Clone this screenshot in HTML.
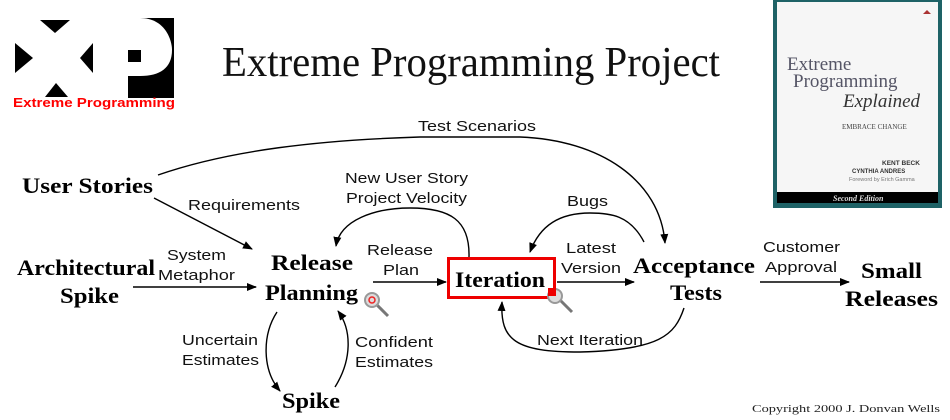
<!DOCTYPE html>
<html><head><meta charset="utf-8"><style>
html,body{margin:0;padding:0;background:#fff;width:950px;height:420px;overflow:hidden}
svg text{font-family:"Liberation Sans",sans-serif}
.s{font-family:"Liberation Serif",serif !important;font-weight:bold;font-size:22px}
.l{font-size:15px;fill:#111}
</style></head><body>
<svg width="950" height="420" viewBox="0 0 950 420" xmlns="http://www.w3.org/2000/svg">
<defs><marker id="a" markerWidth="10" markerHeight="10" refX="9" refY="5" orient="auto" markerUnits="userSpaceOnUse"><path d="M0,1 L10,5 L0,9 Z" fill="#000"/></marker></defs>
<!-- logo -->
<polygon points="15,43 33,58 15,73" fill="#000"/>
<polygon points="40,20 70,20 55,33" fill="#000"/>
<polygon points="45,97 68,97 56,83" fill="#000"/>
<polygon points="93,43 80,58 93,73" fill="#000"/>
<path d="M128,18 L174,18 L174,98 L128,98 Z" fill="#000"/>
<path d="M128,18 L140,18 C165,18 172,40 172,50 C172,68 160,76 140,76 L128,76 Z" fill="#fff"/>
<rect x="128" y="50" width="13" height="12" fill="#000"/>
<text x="13" y="107" font-size="12.5" font-weight="bold" fill="#f00" textLength="162" lengthAdjust="spacingAndGlyphs">Extreme Programming</text>
<!-- title -->
<text x="222" y="76" style="font-family:'Liberation Serif',serif" font-size="42" fill="#111" textLength="498" lengthAdjust="spacingAndGlyphs">Extreme Programming Project</text>
<!-- book -->
<rect x="773" y="0" width="169" height="208" fill="#1e6266"/>
<rect x="777" y="2" width="161" height="190" fill="#f6f6f6"/>
<rect x="777" y="192" width="161" height="11" fill="#000"/>
<text x="833" y="201" font-size="8" font-style="italic" font-weight="bold" fill="#ddd" style="font-family:'Liberation Serif',serif">Second Edition</text>
<text x="787" y="70" font-size="19" fill="#556" style="font-family:'Liberation Serif',serif">Extreme</text>
<text x="793" y="87" font-size="19" fill="#556" style="font-family:'Liberation Serif',serif">Programming</text>
<text x="843" y="107" font-size="19" font-style="italic" fill="#333" style="font-family:'Liberation Serif',serif">Explained</text>
<text x="842" y="129" font-size="7" fill="#444" style="font-family:'Liberation Serif',serif">EMBRACE CHANGE</text>
<text x="882" y="165" font-size="6.5" font-weight="bold" fill="#333">KENT BECK</text>
<text x="852" y="173" font-size="6" font-weight="bold" fill="#333">CYNTHIA ANDRES</text>
<text x="849" y="181" font-size="5.5" fill="#777">Foreword by Erich Gamma</text>
<polygon points="923,14 927,10 931,14" fill="#a33"/>
<!-- nodes -->
<text class="s" x="22" y="193" textLength="131" lengthAdjust="spacingAndGlyphs">User Stories</text>
<text class="s" x="17" y="275" textLength="138" lengthAdjust="spacingAndGlyphs">Architectural</text>
<text class="s" x="60" y="303" textLength="59" lengthAdjust="spacingAndGlyphs">Spike</text>
<text class="s" x="271" y="270" textLength="82" lengthAdjust="spacingAndGlyphs">Release</text>
<text class="s" x="265" y="300" textLength="93" lengthAdjust="spacingAndGlyphs">Planning</text>
<rect x="448.5" y="258.5" width="106" height="39" fill="#fff" stroke="#e00" stroke-width="3"/>
<text class="s" x="455" y="287" textLength="90" lengthAdjust="spacingAndGlyphs">Iteration</text>
<text class="s" x="633" y="273" textLength="122" lengthAdjust="spacingAndGlyphs">Acceptance</text>
<text class="s" x="670" y="300" textLength="52" lengthAdjust="spacingAndGlyphs">Tests</text>
<text class="s" x="861" y="278" textLength="61" lengthAdjust="spacingAndGlyphs">Small</text>
<text class="s" x="845" y="306" textLength="93" lengthAdjust="spacingAndGlyphs">Releases</text>
<text class="s" x="282" y="408" textLength="58" lengthAdjust="spacingAndGlyphs">Spike</text>
<!-- labels -->
<text class="l" x="418" y="131" textLength="118" lengthAdjust="spacingAndGlyphs">Test Scenarios</text>
<text class="l" x="188" y="210" textLength="112" lengthAdjust="spacingAndGlyphs">Requirements</text>
<text class="l" x="345" y="183" textLength="123" lengthAdjust="spacingAndGlyphs">New User Story</text>
<text class="l" x="346" y="203" textLength="121" lengthAdjust="spacingAndGlyphs">Project Velocity</text>
<text class="l" x="567" y="206" textLength="41" lengthAdjust="spacingAndGlyphs">Bugs</text>
<text class="l" x="167" y="260" textLength="59" lengthAdjust="spacingAndGlyphs">System</text>
<text class="l" x="158" y="280" textLength="77" lengthAdjust="spacingAndGlyphs">Metaphor</text>
<text class="l" x="367" y="255" textLength="66" lengthAdjust="spacingAndGlyphs">Release</text>
<text class="l" x="383" y="275" textLength="36" lengthAdjust="spacingAndGlyphs">Plan</text>
<text class="l" x="566" y="253" textLength="50" lengthAdjust="spacingAndGlyphs">Latest</text>
<text class="l" x="561" y="273" textLength="60" lengthAdjust="spacingAndGlyphs">Version</text>
<text class="l" x="763" y="252" textLength="77" lengthAdjust="spacingAndGlyphs">Customer</text>
<text class="l" x="765" y="272" textLength="72" lengthAdjust="spacingAndGlyphs">Approval</text>
<text class="l" x="537" y="345" textLength="106" lengthAdjust="spacingAndGlyphs">Next Iteration</text>
<text class="l" x="182" y="345" textLength="76" lengthAdjust="spacingAndGlyphs">Uncertain</text>
<text class="l" x="182" y="365" textLength="77" lengthAdjust="spacingAndGlyphs">Estimates</text>
<text class="l" x="355" y="347" textLength="78" lengthAdjust="spacingAndGlyphs">Confident</text>
<text class="l" x="355" y="367" textLength="78" lengthAdjust="spacingAndGlyphs">Estimates</text>
<text x="752" y="412" font-size="10.5" fill="#222" style="font-family:'Liberation Serif',serif" textLength="188" lengthAdjust="spacingAndGlyphs">Copyright 2000 J. Donvan Wells</text>
<!-- connectors -->
<g fill="none" stroke="#000" stroke-width="1.4">
<path d="M158,175 C230,150 320,140 420,137 L520,137 C600,140 660,180 665,243" marker-end="url(#a)"/>
<path d="M154,198 L252,249" marker-end="url(#a)"/>
<path d="M133,287 L256,287" marker-end="url(#a)"/>
<path d="M373,282 L446,282" marker-end="url(#a)"/>
<path d="M469,257 C470,220 450,208 410,208 C375,208 340,220 336,246" marker-end="url(#a)"/>
<path d="M557,282 L634,282" marker-end="url(#a)"/>
<path d="M644,242 C630,215 610,213 590,213 C560,213 540,225 530,252" marker-end="url(#a)"/>
<path d="M684,308 C675,335 660,350 580,352 C515,352 500,340 502,302" marker-end="url(#a)"/>
<path d="M760,282 L849,282" marker-end="url(#a)"/>
<path d="M277,312 C262,335 262,370 280,391" marker-end="url(#a)"/>
<path d="M335,387 C352,360 352,330 338,311" marker-end="url(#a)"/>
</g>
<!-- magnifiers -->
<g><line x1="376" y1="304" x2="388" y2="316" stroke="#777" stroke-width="3"/><circle cx="372" cy="300" r="7" fill="#ddd" stroke="#999" stroke-width="2"/><circle cx="372" cy="300" r="3" fill="none" stroke="#e22" stroke-width="1.5"/></g>
<g><line x1="560" y1="300" x2="572" y2="312" stroke="#777" stroke-width="3"/><circle cx="555" cy="296" r="7" fill="#ddd" stroke="#999" stroke-width="2"/><rect x="548" y="288" width="8" height="8" fill="#e00"/></g>
</svg>
</body></html>
